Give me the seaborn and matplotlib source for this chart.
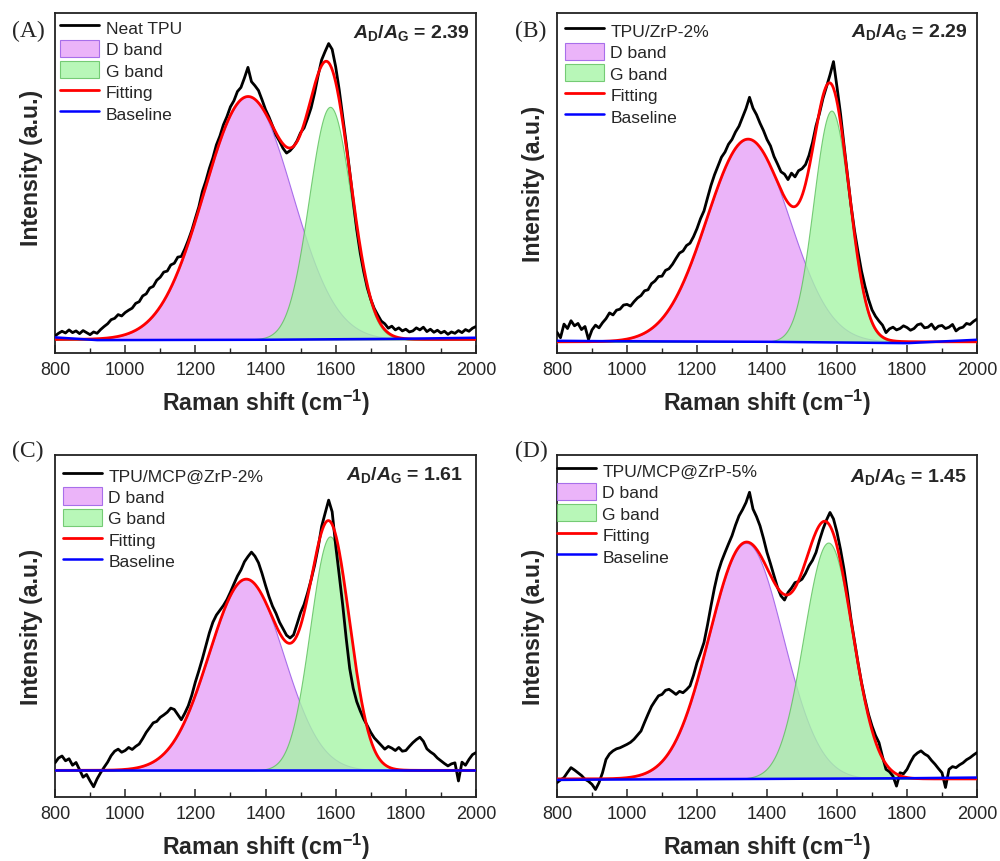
import numpy as np
import matplotlib.pyplot as plt
import seaborn as sns
from matplotlib.ticker import MultipleLocator

# Raman shift axis of the measured spectra (cm-1)
shift = list(range(800, 2001, 10))

neat_tpu = [
    5.0, 5.8, 6.4, 5.9, 6.8, 6.0, 6.5, 5.7, 6.6, 6.0,
    5.4, 6.2, 5.8, 6.9, 7.8, 8.6, 9.8, 10.2, 11.3, 10.9,
    11.9, 12.6, 13.2, 14.6, 15.1, 16.8, 17.4, 19.1, 19.6, 21.4,
    22.3, 23.8, 24.1, 25.9, 26.4, 28.2, 28.4, 30.6, 33.2, 36.1,
    39.6, 43.0, 47.5, 50.6, 54.3, 57.4, 61.2, 63.8, 67.1, 69.5,
    72.4, 74.2, 76.9, 78.1, 80.9, 84.0, 79.8, 78.6, 77.2, 74.5,
    71.6, 69.4, 66.8, 64.1, 62.3, 60.2, 58.8, 59.5, 60.7, 62.4,
    64.8, 66.2, 69.0, 72.1, 76.5, 81.6, 86.2, 88.7, 91.0, 89.3,
    84.2, 77.5, 69.6, 61.8, 53.4, 44.7, 36.3, 29.4, 23.9, 19.2,
    15.8, 13.1, 11.2, 9.4, 8.6, 7.3, 7.9, 6.8, 7.4, 6.5,
    7.0, 6.2, 6.5, 7.4, 6.8, 7.6, 6.3, 7.0, 6.1, 6.7,
    5.9, 6.4, 5.5, 6.2, 5.8, 6.6, 6.0, 6.9, 6.4, 7.3,
    7.8,
]
tpu_zrp_2 = [
    6.1, 4.5, 8.5, 7.2, 9.5, 8.0, 8.7, 6.9, 7.8, 4.0,
    6.8, 8.2, 7.4, 8.9, 10.1, 11.8, 11.2, 12.6, 12.9, 14.1,
    14.3, 13.8, 15.1, 16.2, 16.9, 18.3, 18.6, 20.4, 21.2, 22.5,
    22.6, 24.3, 24.8, 26.1, 27.8, 29.4, 30.0, 31.6, 32.3, 34.2,
    36.6, 39.5, 41.8, 45.6, 49.3, 52.4, 55.0, 57.6, 59.1, 61.4,
    62.8, 65.0, 66.7, 69.3, 71.9, 75.2, 72.0, 70.1, 67.6, 65.4,
    62.8, 60.9, 57.8, 55.6, 53.3, 52.6, 51.0, 52.9, 51.8, 53.6,
    54.2, 55.4, 58.1, 61.9, 66.8, 70.5, 74.9, 78.3, 81.8, 85.7,
    78.2, 70.4, 61.2, 52.3, 43.5, 36.0, 29.8, 24.1, 19.6, 15.8,
    12.7, 10.8, 9.4, 8.2, 6.0, 7.1, 7.6, 6.8, 7.2, 8.0,
    7.5, 6.7, 7.2, 8.3, 8.6, 7.4, 7.6, 8.5, 7.0, 7.9,
    8.1, 7.2, 7.6, 8.4, 6.5, 7.3, 7.6, 8.7, 8.4, 9.3,
    10.0,
]
tpu_mcp_zrp_2 = [
    10.0, 11.4, 12.0, 10.6, 11.2, 9.3, 10.1, 8.0, 5.8, 6.6,
    4.7, 3.0, 5.3, 7.1, 8.7, 10.2, 12.1, 13.4, 14.0, 13.1,
    13.6, 14.5, 13.9, 14.8, 15.5, 17.1, 18.9, 20.3, 21.7, 22.1,
    23.3, 24.0, 24.8, 26.0, 25.6, 24.1, 22.6, 24.5, 26.7, 29.8,
    33.6, 36.9, 40.4, 44.2, 48.0, 51.1, 53.2, 54.6, 56.0, 57.7,
    59.9, 62.3, 64.6, 66.4, 68.8, 70.3, 71.6, 70.4, 68.5, 65.4,
    61.9, 58.6, 55.8, 53.7, 51.1, 49.2, 47.3, 46.5, 47.4, 50.6,
    53.9, 56.3, 59.7, 63.5, 67.8, 72.9, 79.1, 83.0, 86.8, 83.4,
    73.6, 65.0, 56.2, 46.4, 37.6, 31.8, 27.9, 25.2, 22.8, 20.9,
    18.9, 17.3, 16.2, 15.1, 14.0, 14.8, 14.3, 13.6, 14.5, 13.4,
    13.6, 14.8, 15.9, 16.8, 17.5, 16.3, 14.1, 13.2, 12.5, 11.4,
    10.6, 9.8, 9.1, 9.7, 10.0, 4.7, 10.2, 9.3, 11.0, 12.4,
    13.0,
]
tpu_mcp_zrp_5 = [
    4.2, 5.0, 5.7, 7.2, 8.6, 7.9, 7.1, 6.3, 5.2, 4.6,
    3.7, 2.2, 4.2, 7.1, 11.0, 12.6, 13.5, 14.1, 14.4, 14.9,
    15.4, 16.0, 16.9, 18.1, 19.3, 21.8, 24.2, 26.5, 28.1, 29.6,
    30.0, 31.2, 31.5, 30.8, 30.0, 30.9, 30.5, 31.4, 32.5, 35.6,
    39.3, 42.1, 45.2, 50.3, 55.9, 61.2, 65.7, 68.9, 71.5, 74.0,
    76.4, 79.5, 82.2, 84.0, 86.1, 89.1, 84.2, 82.0, 79.3, 75.6,
    71.5, 68.2, 64.7, 61.3, 58.8, 57.6, 59.8, 61.1, 62.7, 63.0,
    63.7, 65.4, 67.6, 69.2, 71.5, 75.1, 78.3, 81.0, 83.2, 81.3,
    77.4, 72.4, 66.6, 59.7, 52.0, 45.6, 39.3, 33.5, 28.6, 24.2,
    20.8, 18.0, 15.9, 11.8, 8.1, 7.4, 6.1, 3.2, 7.1, 6.8,
    8.1, 10.2, 12.0, 12.9, 13.5, 12.6, 12.0, 10.7, 9.6, 8.3,
    7.1, 2.8, 8.1, 8.9, 8.6, 9.4, 10.0, 10.9, 11.5, 12.3,
    13.0,
]
spectra = [neat_tpu, tpu_zrp_2, tpu_mcp_zrp_2, tpu_mcp_zrp_5]

sample_names = ["Neat TPU", "TPU/ZrP-2%", "TPU/MCP@ZrP-2%", "TPU/MCP@ZrP-5%"]
panel_tags = ["(A)", "(B)", "(C)", "(D)"]
ad_ag = ["2.39", "2.29", "1.61", "1.45"]

# Gaussian fit results: centre (cm-1), height above baseline, sigma (cm-1)
d_center = [1350, 1346, 1345, 1340]
d_height = [71.4, 59.6, 55.9, 69.0]
d_sigma = [125, 118, 106, 105]
g_center = [1584, 1584, 1584, 1575]
g_height = [68.4, 68.0, 68.4, 69.1]
g_sigma = [60, 51, 57, 70]
base_level = [4.0, 3.3, 7.8, 5.3]

# baseline drawn through these points
baseline_x = [800, 920, 1400, 1800, 2000]
baseline_a = [4.6, 3.8, 3.9, 4.2, 4.5]
baseline_b = [3.6, 3.5, 3.3, 2.9, 3.9]
baseline_c = [7.8, 7.8, 7.8, 7.8, 7.8]
baseline_d = [5.0, 5.1, 5.3, 5.5, 5.7]
baselines = [baseline_a, baseline_b, baseline_c, baseline_d]

sns.set_theme(style="ticks")
plt.rcParams["font.family"] = ["Liberation Sans", "DejaVu Sans"]
plt.rcParams.update({
    "mathtext.fontset": "custom",
    "mathtext.rm": "Liberation Sans:bold",
    "mathtext.it": "Liberation Sans:italic:bold",
    "mathtext.bf": "Liberation Sans:bold",
})

fig = plt.figure(figsize=(10, 8.62), dpi=100)
boxes = [
    [0.055, 0.5893, 0.421, 0.3945],
    [0.557, 0.5893, 0.420, 0.3945],
    [0.055, 0.0742, 0.421, 0.3968],
    [0.557, 0.0742, 0.420, 0.3968],
]
legend_anchor = [(0.012, 0.985), (0.019, 0.976), (0.019, 0.968), (0.0, 0.982)]
ratio_pos = [(0.986, 0.944), (0.979, 0.947), (0.969, 0.944), (0.976, 0.939)]
ylabel_y = [0.547, 0.5, 0.5, 0.5]
tag_pos = [(0.012, 0.964), (0.515, 0.964), (0.012, 0.476), (0.515, 0.476)]

x_fit = np.arange(800, 2001, 2)

for i in range(4):
    ax = fig.add_axes(boxes[i])
    d_band = d_height[i] * np.exp(-(x_fit - d_center[i]) ** 2 / (2 * d_sigma[i] ** 2))
    g_band = g_height[i] * np.exp(-(x_fit - g_center[i]) ** 2 / (2 * g_sigma[i] ** 2))
    b0 = base_level[i]

    ax.fill_between(x_fit, b0, b0 + d_band, facecolor="#EBB4F9", edgecolor="#A86FEA",
                    linewidth=0.8, label="D band", zorder=1)
    ax.fill_between(x_fit, b0, b0 + g_band, facecolor="#A6F5A6", edgecolor="#5CBF5C",
                    linewidth=0.8, alpha=0.8, label="G band", zorder=2)
    sns.lineplot(x=shift, y=spectra[i], ax=ax, color="black", linewidth=2.0,
                 label=sample_names[i], zorder=3)
    sns.lineplot(x=x_fit, y=b0 + d_band + g_band, ax=ax, color="#FF0000", linewidth=2.0,
                 label="Fitting", zorder=4)
    sns.lineplot(x=baseline_x, y=baselines[i], ax=ax, color="#0000FF", linewidth=1.8,
                 label="Baseline", zorder=5)

    handles, labels = ax.get_legend_handles_labels()
    order = [labels.index(n) for n in [sample_names[i], "D band", "G band", "Fitting", "Baseline"]]
    ax.legend([handles[k] for k in order], [labels[k] for k in order],
              loc="upper left", bbox_to_anchor=legend_anchor[i], borderaxespad=0,
              borderpad=0, frameon=False, fontsize=12.6, handlelength=2.25,
              handleheight=1.15, handletextpad=0.35, labelspacing=0.22)

    ax.set_xlim(800, 2000)
    ax.set_ylim(0, 100)
    ax.set_xticks(range(800, 2001, 200))
    ax.xaxis.set_minor_locator(MultipleLocator(100))
    ax.set_yticks([])
    ax.tick_params(axis="x", which="major", direction="in", length=6, width=1.1,
                   labelsize=13, pad=6, bottom=True, top=False)
    ax.tick_params(axis="x", which="minor", direction="in", length=3.5, width=1.0,
                   bottom=True, top=False)
    for s in ax.spines.values():
        s.set_linewidth(1.3)
        s.set_color("#222222")

    ax.set_xlabel("Raman shift (cm$^{-1}$)", fontsize=16.7, fontweight="bold", labelpad=6)
    ax.set_ylabel("Intensity (a.u.)", fontsize=16.7, fontweight="bold")
    ax.yaxis.set_label_coords(-0.028, ylabel_y[i])

    ax.text(ratio_pos[i][0], ratio_pos[i][1], "$A_\\mathrm{D}/A_\\mathrm{G}$ = " + ad_ag[i],
            transform=ax.transAxes, ha="right", va="center", fontsize=14, fontweight="bold")
    fig.text(tag_pos[i][0], tag_pos[i][1], panel_tags[i], family="Liberation Serif",
             fontsize=17, ha="left", va="center")

fig.savefig("out.png", dpi=100)
